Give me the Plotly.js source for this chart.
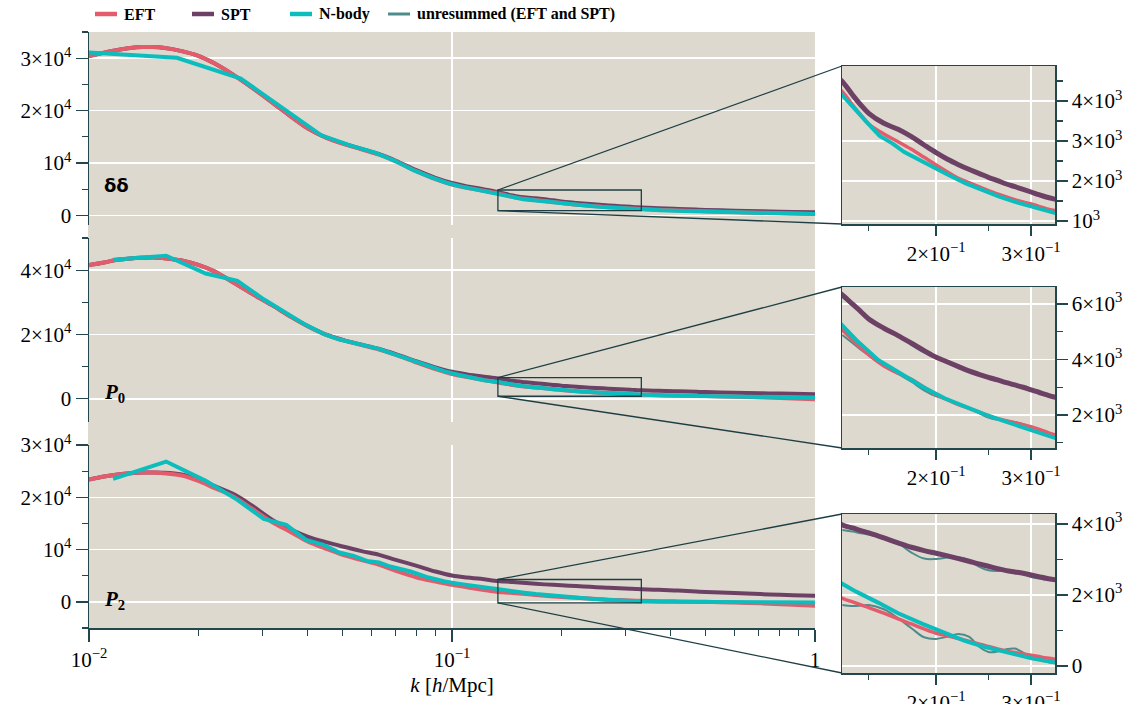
<!DOCTYPE html>
<html>
<head>
<meta charset="utf-8">
<script src="https://cdn.plot.ly/plotly-3.0.1.min.js"></script>
<style>html,body{margin:0;padding:0;background:#fff;}#chart{width:1134px;height:704px;}</style>
</head>
<body>
<div id="chart"></div>
<script>
// ---------------- data ----------------
const kTheory = [0.01, 0.011, 0.012, 0.013, 0.014, 0.015, 0.016, 0.018, 0.02, 0.022, 0.025, 0.028, 0.032, 0.036, 0.04, 0.045, 0.05, 0.056, 0.063, 0.07, 0.08, 0.09, 0.1, 0.11, 0.12,
  0.134, 0.14, 0.145, 0.15, 0.16, 0.17, 0.18, 0.19, 0.2, 0.21, 0.22, 0.23, 0.24, 0.25, 0.26, 0.27, 0.28, 0.29, 0.3, 0.31, 0.32, 0.333,
  0.37, 0.42, 0.48, 0.55, 0.65, 0.75, 0.87, 1.0];

const eftDD = [30400, 31030, 31550, 31930, 32120, 32120, 31990, 31360, 30460, 29120, 26830, 24470, 21540, 18870, 16630, 14850, 13700, 12680, 11600, 10320, 8410, 6950, 5930, 5290, 4840,
  4233, 3900, 3650, 3425, 3175, 2983, 2792, 2592, 2400, 2225, 2067, 1958, 1858, 1758, 1675, 1600, 1533, 1475, 1425, 1367, 1308, 1258,
  1120, 980, 850, 730, 600, 500, 400, 320];
const sptDD = [30400, 31030, 31550, 31930, 32120, 32120, 31990, 31360, 30460, 29120, 26830, 24470, 21540, 18870, 16630, 14850, 13750, 12750, 11700, 10450, 8600, 7200, 6200, 5550, 5100,
  4483, 4150, 3900, 3692, 3442, 3292, 3108, 2900, 2708, 2542, 2408, 2292, 2192, 2092, 2008, 1925, 1858, 1792, 1725, 1658, 1600, 1542,
  1400, 1250, 1120, 1000, 880, 790, 700, 630];

const eftP0 = [41560, 42400, 43230, 43650, 43850, 43960, 43750, 43020, 41670, 39790, 36150, 32810, 29060, 25520, 22600, 19900, 18230, 16770, 15310, 13650, 11250, 9270, 7710, 6770, 6040,
  5063, 4703, 4403, 4162, 3766, 3502, 3286, 2998, 2721, 2541, 2372, 2241, 2108, 1964, 1867, 1795, 1723, 1651, 1578, 1485, 1387, 1279,
  1170, 1050, 900, 750, 550, 350, 130, -100];
const sptP0 = [41560, 42400, 43230, 43650, 43850, 43960, 43750, 43020, 41670, 39790, 36150, 32810, 29060, 25520, 22650, 19980, 18330, 16920, 15510, 13900, 11600, 9770, 8400, 7600, 7000,
  6325, 5990, 5725, 5460, 5125, 4860, 4584, 4318, 4078, 3910, 3741, 3586, 3466, 3358, 3261, 3164, 3081, 2998, 2901, 2818, 2732, 2637,
  2500, 2330, 2150, 2000, 1830, 1680, 1560, 1460];

const eftP2 = [23390, 23960, 24350, 24600, 24730, 24730, 24600, 24160, 23140, 21860, 20140, 17910, 15230, 13320, 11540, 10130, 8990, 8030, 7070, 5930, 4650, 3890, 3250, 2800, 2360,
  1906, 1803, 1718, 1643, 1484, 1324, 1183, 1042, 920, 845, 770, 695, 620, 545, 479, 423, 376, 338, 300, 263, 225, 188,
  140, 90, 30, -60, -200, -350, -550, -760];
const sptP2 = [23390, 23960, 24350, 24600, 24730, 24730, 24700, 24350, 23400, 22250, 20600, 18500, 15680, 13830, 12490, 11410, 10580, 9750, 8990, 8030, 6880, 5800, 5030, 4650, 4400,
  3972, 3887, 3812, 3747, 3606, 3465, 3343, 3249, 3174, 3099, 3024, 2949, 2873, 2808, 2742, 2685, 2648, 2610, 2563, 2516, 2469, 2423,
  2300, 2150, 1950, 1780, 1580, 1420, 1280, 1150];

// N-body, delta-delta (bins of width ~0.00873)
const kNbodyDD = [0.00873, 0.01746, 0.02619, 0.03492, 0.04365, 0.05238, 0.06111, 0.06984, 0.07857, 0.0873, 0.09603, 0.10476, 0.11349, 0.12222,
  0.13095, 0.13968, 0.14841, 0.15714, 0.16587, 0.1746, 0.19206, 0.20952, 0.22698, 0.24444, 0.2619, 0.27936, 0.29682, 0.31428, 0.33174,
  0.37539, 0.4365, 0.49761, 0.60237, 0.6984, 0.80316, 0.90792, 1.00395];
const nbodyDD = [31340, 30080, 26130, 20000, 15300, 13380, 12050, 10390, 8600, 7330, 6310, 5610, 5160, 4650,
  4292, 3858, 3483, 3125, 2942, 2725, 2425, 2167, 1942, 1758, 1608, 1483, 1375, 1275, 1175,
  1000, 850, 740, 580, 470, 380, 320, 280];

// N-body, multipoles (bins of width ~0.00466)
const kNbodyMP = [0.01165, 0.01631, 0.02097, 0.02563, 0.03029, 0.03495, 0.03961, 0.04427, 0.04893, 0.05359, 0.05825, 0.06291, 0.06757,
  0.07689, 0.08621, 0.09553, 0.10485, 0.11417, 0.12349,
  0.13281, 0.14213, 0.15611, 0.17009, 0.18873, 0.20737, 0.22601, 0.24465, 0.26329, 0.28193, 0.30057, 0.31921, 0.33785,
  0.37513, 0.42173, 0.46833, 0.56153, 0.65473, 0.74793, 0.84113, 0.99953];
const nbodyP0 = [43230, 44480, 38960, 36670, 30940, 26770, 22920, 20210, 18440, 17400, 16350, 15520, 14270,
  12190, 10100, 8540, 7400, 6460, 5730,
  5305, 4703, 3982, 3550, 3020, 2601, 2300, 2036, 1820, 1629, 1459, 1304, 1124,
  1020, 930, 860, 750, 660, 580, 510, 420];
const nbodyP2 = [23520, 26830, 23140, 19500, 15870, 14720, 11850, 10900, 9430, 8800, 7840, 7520, 6750,
  5800, 4650, 3890, 3440, 3060, 2740,
  2347, 2093, 1784, 1484, 1183, 920, 704, 545, 423, 310, 216, 141, 75,
  40, 10, -10, -30, -50, -70, -100, -130];

// unresummed (EFT and SPT), zoom range only
const kUnres = [0.134, 0.14, 0.145, 0.15, 0.16, 0.17, 0.18, 0.19, 0.2, 0.21, 0.22, 0.23, 0.24, 0.25, 0.26, 0.27, 0.28, 0.29, 0.3, 0.31, 0.32, 0.333];
const unresEftP0 = [4883, 4593, 4353, 4162, 3796, 3482, 3196, 2888, 2671, 2561, 2412, 2261, 2078, 1904, 1827, 1795, 1743, 1671, 1578, 1465, 1362, 1269];
const unresSptP0 = [6245, 5940, 5705, 5460, 5145, 4850, 4524, 4248, 4048, 3920, 3771, 3596, 3446, 3318, 3231, 3164, 3096, 3013, 2901, 2808, 2717, 2632];
const unresEftP2 = [1718, 1690, 1700, 1718, 1596, 1343, 1061, 808, 761, 826, 901, 826, 545, 394, 404, 470, 488, 376, 263, 169, 113, 75];
const unresSptP2 = [3831, 3784, 3737, 3700, 3615, 3456, 3193, 3024, 3014, 3052, 3061, 2986, 2798, 2695, 2676, 2685, 2667, 2592, 2507, 2460, 2432, 2413];

// zoom windows
const zoomK = [0.1338, 0.3323];
const zoomY = [[925, 4875], [810, 6610], [-200, 4280]];

// ticks
const mainYTickVals = [[0, 10000, 20000, 30000], [0, 20000, 40000], [0, 10000, 20000, 30000]];
const mainYTickText = [['0', '10<sup>4</sup>', '2×10<sup>4</sup>', '3×10<sup>4</sup>'],
                       ['0', '2×10<sup>4</sup>', '4×10<sup>4</sup>'],
                       ['0', '10<sup>4</sup>', '2×10<sup>4</sup>', '3×10<sup>4</sup>']];
const mainYMinor = [[5000, 15000, 25000, 35000], [10000, 30000, 50000], [-5000, 5000, 15000, 25000]];
const mainYRange = [[-1800, 35000], [-7200, 50000], [-5000, 30000]];
const xTickVals = [0.01, 0.1, 1];
const xTickText = ['10<sup>−2</sup>', '10<sup>−1</sup>', '1'];
const xMinor = [0.02, 0.03, 0.04, 0.05, 0.06, 0.07, 0.08, 0.09, 0.2, 0.3, 0.4, 0.5, 0.6, 0.7, 0.8, 0.9];
const insetXTickVals = [0.2, 0.3];
const insetXTickText = ['2×10<sup>−1</sup>', '3×10<sup>−1</sup>'];
const insetXMinor = [0.15, 0.25];
const insetYTickVals = [[1000, 2000, 3000, 4000], [2000, 4000, 6000], [0, 2000, 4000]];
const insetYTickText = [['10<sup>3</sup>', '2×10<sup>3</sup>', '3×10<sup>3</sup>', '4×10<sup>3</sup>'],
                        ['2×10<sup>3</sup>', '4×10<sup>3</sup>', '6×10<sup>3</sup>'],
                        ['0', '2×10<sup>3</sup>', '4×10<sup>3</sup>']];
const insetYMinor = [[1500, 2500, 3500, 4500], [1000, 3000, 5000], [1000, 3000]];
const panelLabels = ['<b>δδ</b>', '<b><i>P</i><sub>0</sub></b>', '<b><i>P</i><sub>2</sub></b>'];
const legendNames = ['EFT', 'SPT', 'N-body', 'unresummed (EFT and SPT)'];

// ---------------- styling / geometry ----------------
const W = 1134, H = 704;
const C = {eft: '#e45b6c', spt: '#6d4165', nb: '#0bbdbd', un: '#4e8c8c', bg: '#ddd9ce', ax: '#22484d', grid: '#ffffff'};
const TF = {family: 'Liberation Serif, serif', size: 21, color: '#000'};
const mainXpx = [89, 815];
const panelYpx = [[32, 225], [238, 422], [445, 628]];
const insetXpx = [842, 1055];
const insetYpx = [[66, 224], [287, 448], [514, 673]];
const px = v => v / W, py = v => 1 - v / H;

const layout = {
  width: W, height: H, margin: {l: 0, r: 0, t: 0, b: 0},
  paper_bgcolor: '#ffffff', plot_bgcolor: 'rgba(0,0,0,0)',
  showlegend: false, shapes: [], annotations: []
};

const traces = [];
function addLine(x, y, xa, ya, color, width, shape) {
  traces.push({x: x, y: y, xaxis: xa, yaxis: ya, type: 'scatter', mode: 'lines',
    line: {color: color, width: width, shape: shape || 'linear'}, hoverinfo: 'skip'});
}

const theory = [[sptDD, eftDD], [sptP0, eftP0], [sptP2, eftP2]];
const nbody = [[kNbodyDD, nbodyDD], [kNbodyMP, nbodyP0], [kNbodyMP, nbodyP2]];
const unres = [null, [unresSptP0, unresEftP0], [unresSptP2, unresEftP2]];

for (let i = 0; i < 3; i++) {
  const n = i + 1, ni = i + 4;
  const xa = n === 1 ? 'x' : 'x' + n, ya = n === 1 ? 'y' : 'y' + n;
  const xi = 'x' + ni, yi = 'y' + ni;
  // main panel
  addLine(kTheory, theory[i][0], xa, ya, C.spt, 4, 'spline');
  addLine(kTheory, theory[i][1], xa, ya, C.eft, 4, 'spline');
  addLine(nbody[i][0], nbody[i][1], xa, ya, C.nb, 4);
  // inset
  if (unres[i]) {
    addLine(kUnres, unres[i][0], xi, yi, C.un, 2, 'spline');
    addLine(kUnres, unres[i][1], xi, yi, C.un, 2, 'spline');
  }
  addLine(kTheory, theory[i][0], xi, yi, C.spt, 5, 'spline');
  addLine(kTheory, theory[i][1], xi, yi, C.eft, 3.5, 'spline');
  addLine(nbody[i][0], nbody[i][1], xi, yi, C.nb, 4);

  const xKey = n === 1 ? 'xaxis' : 'xaxis' + n, yKey = n === 1 ? 'yaxis' : 'yaxis' + n;
  const bottom = (i === 2);
  layout[xKey] = {
    type: 'log', range: [-2, 0], domain: [px(mainXpx[0]), px(mainXpx[1])], anchor: ya,
    showgrid: true, gridcolor: C.grid, gridwidth: 1.5, zeroline: false,
    tickmode: 'array', tickvals: xTickVals, ticktext: xTickText,
    showticklabels: bottom, ticks: bottom ? 'outside' : '', ticklen: 12, tickcolor: C.ax, tickwidth: 1.3,
    showline: bottom, linecolor: C.ax, linewidth: 1.5, tickfont: TF,
    minor: bottom ? {tickmode: 'array', tickvals: xMinor, ticks: 'outside', ticklen: 6, tickcolor: C.ax, tickwidth: 1.1, showgrid: false} : {showgrid: false}
  };
  if (bottom) layout[xKey].title = {text: '<i>k</i> [<i>h</i>/Mpc]', font: {family: 'Liberation Serif, serif', size: 21, color: '#000'}, standoff: 6};
  layout[yKey] = {
    range: mainYRange[i], domain: [py(panelYpx[i][1]), py(panelYpx[i][0])], anchor: xa,
    showgrid: true, gridcolor: C.grid, gridwidth: 1.5, zeroline: false,
    tickmode: 'array', tickvals: mainYTickVals[i], ticktext: mainYTickText[i], tickfont: TF,
    ticks: 'outside', ticklen: 12, tickcolor: C.ax, tickwidth: 1.3,
    showline: true, linecolor: C.ax, linewidth: 1.5,
    minor: {tickmode: 'array', tickvals: mainYMinor[i], ticks: 'outside', ticklen: 6, tickcolor: C.ax, tickwidth: 1.1, showgrid: false}
  };
  // inset axes
  layout['xaxis' + ni] = {
    type: 'log', range: [Math.log10(zoomK[0]), Math.log10(zoomK[1])], domain: [px(insetXpx[0]), px(insetXpx[1])], anchor: yi,
    showgrid: true, gridcolor: C.grid, gridwidth: 1.5, zeroline: false,
    tickmode: 'array', tickvals: insetXTickVals, ticktext: insetXTickText, tickfont: TF,
    ticks: 'outside', ticklen: 10, tickcolor: C.ax, tickwidth: 1.3,
    showline: true, mirror: true, linecolor: C.ax, linewidth: 1.5,
    minor: {tickmode: 'array', tickvals: insetXMinor, ticks: 'outside', ticklen: 5, tickcolor: C.ax, tickwidth: 1.1, showgrid: false}
  };
  layout['yaxis' + ni] = {
    range: zoomY[i], domain: [py(insetYpx[i][1]), py(insetYpx[i][0])], anchor: xi, side: 'right',
    showgrid: true, gridcolor: C.grid, gridwidth: 1.5, zeroline: false,
    tickmode: 'array', tickvals: insetYTickVals[i], ticktext: insetYTickText[i], tickfont: TF,
    ticks: 'outside', ticklen: 11, tickcolor: C.ax, tickwidth: 1.3,
    showline: true, mirror: true, linecolor: C.ax, linewidth: 1.5,
    minor: {tickmode: 'array', tickvals: insetYMinor[i], ticks: 'outside', ticklen: 6, tickcolor: C.ax, tickwidth: 1.1, showgrid: false}
  };

  // inset background
  layout.shapes.push({type: 'rect', xref: 'paper', yref: 'paper', layer: 'below',
    x0: px(insetXpx[0]), x1: px(insetXpx[1]), y0: py(insetYpx[i][1]), y1: py(insetYpx[i][0]),
    fillcolor: C.bg, line: {width: 0}});
  // zoom box on main panel
  layout.shapes.push({type: 'rect', xref: xa, yref: ya, layer: 'above',
    x0: zoomK[0], x1: zoomK[1], y0: zoomY[i][0], y1: zoomY[i][1],
    line: {color: '#1d3f44', width: 1.3}, fillcolor: 'rgba(0,0,0,0)'});
  // connectors (box left corners -> inset left corners)
  const bx = mainXpx[0] + (Math.log10(zoomK[0]) + 2) / 2 * (mainXpx[1] - mainXpx[0]);
  const yr = mainYRange[i], ph = panelYpx[i][1] - panelYpx[i][0];
  const byTop = panelYpx[i][1] - (zoomY[i][1] - yr[0]) / (yr[1] - yr[0]) * ph;
  const byBot = panelYpx[i][1] - (zoomY[i][0] - yr[0]) / (yr[1] - yr[0]) * ph;
  layout.shapes.push({type: 'line', xref: 'paper', yref: 'paper', layer: 'above',
    x0: px(bx), y0: py(byTop), x1: px(insetXpx[0]), y1: py(insetYpx[i][0]), line: {color: '#1d3f44', width: 1.3}});
  layout.shapes.push({type: 'line', xref: 'paper', yref: 'paper', layer: 'above',
    x0: px(bx), y0: py(byBot), x1: px(insetXpx[0]), y1: py(insetYpx[i][1]), line: {color: '#1d3f44', width: 1.3}});

  // panel label
  layout.annotations.push({xref: 'paper', yref: 'paper', x: px(102), y: py([186, 393, 600][i]),
    xanchor: 'left', yanchor: 'middle', showarrow: false, text: panelLabels[i],
    font: i === 0 ? {family: 'DejaVu Sans, sans-serif', size: 18, color: '#000'} : {family: 'Liberation Serif, serif', size: 21, color: '#000'}});
}

// main background
layout.shapes.unshift({type: 'rect', xref: 'paper', yref: 'paper', layer: 'below',
  x0: px(88), x1: px(815), y0: py(628), y1: py(32), fillcolor: C.bg, line: {width: 0}});

// manual legend
const legColors = [C.eft, C.spt, C.nb, C.un];
const legX = [95, 192, 290, 388];
for (let j = 0; j < 4; j++) {
  layout.shapes.push({type: 'line', xref: 'paper', yref: 'paper', x0: px(legX[j]), x1: px(legX[j] + 22), y0: py(14), y1: py(14),
    line: {color: legColors[j], width: j === 3 ? 3 : 4.5}});
  layout.annotations.push({xref: 'paper', yref: 'paper', x: px(legX[j] + 27), y: py(14), xanchor: 'left', yanchor: 'middle',
    showarrow: false, text: '<b>' + legendNames[j] + '</b>', font: {family: 'Liberation Serif, serif', size: 16, color: '#000'}});
}

Plotly.newPlot('chart', traces, layout, {staticPlot: true, displayModeBar: false});
</script>
</body>
</html>
